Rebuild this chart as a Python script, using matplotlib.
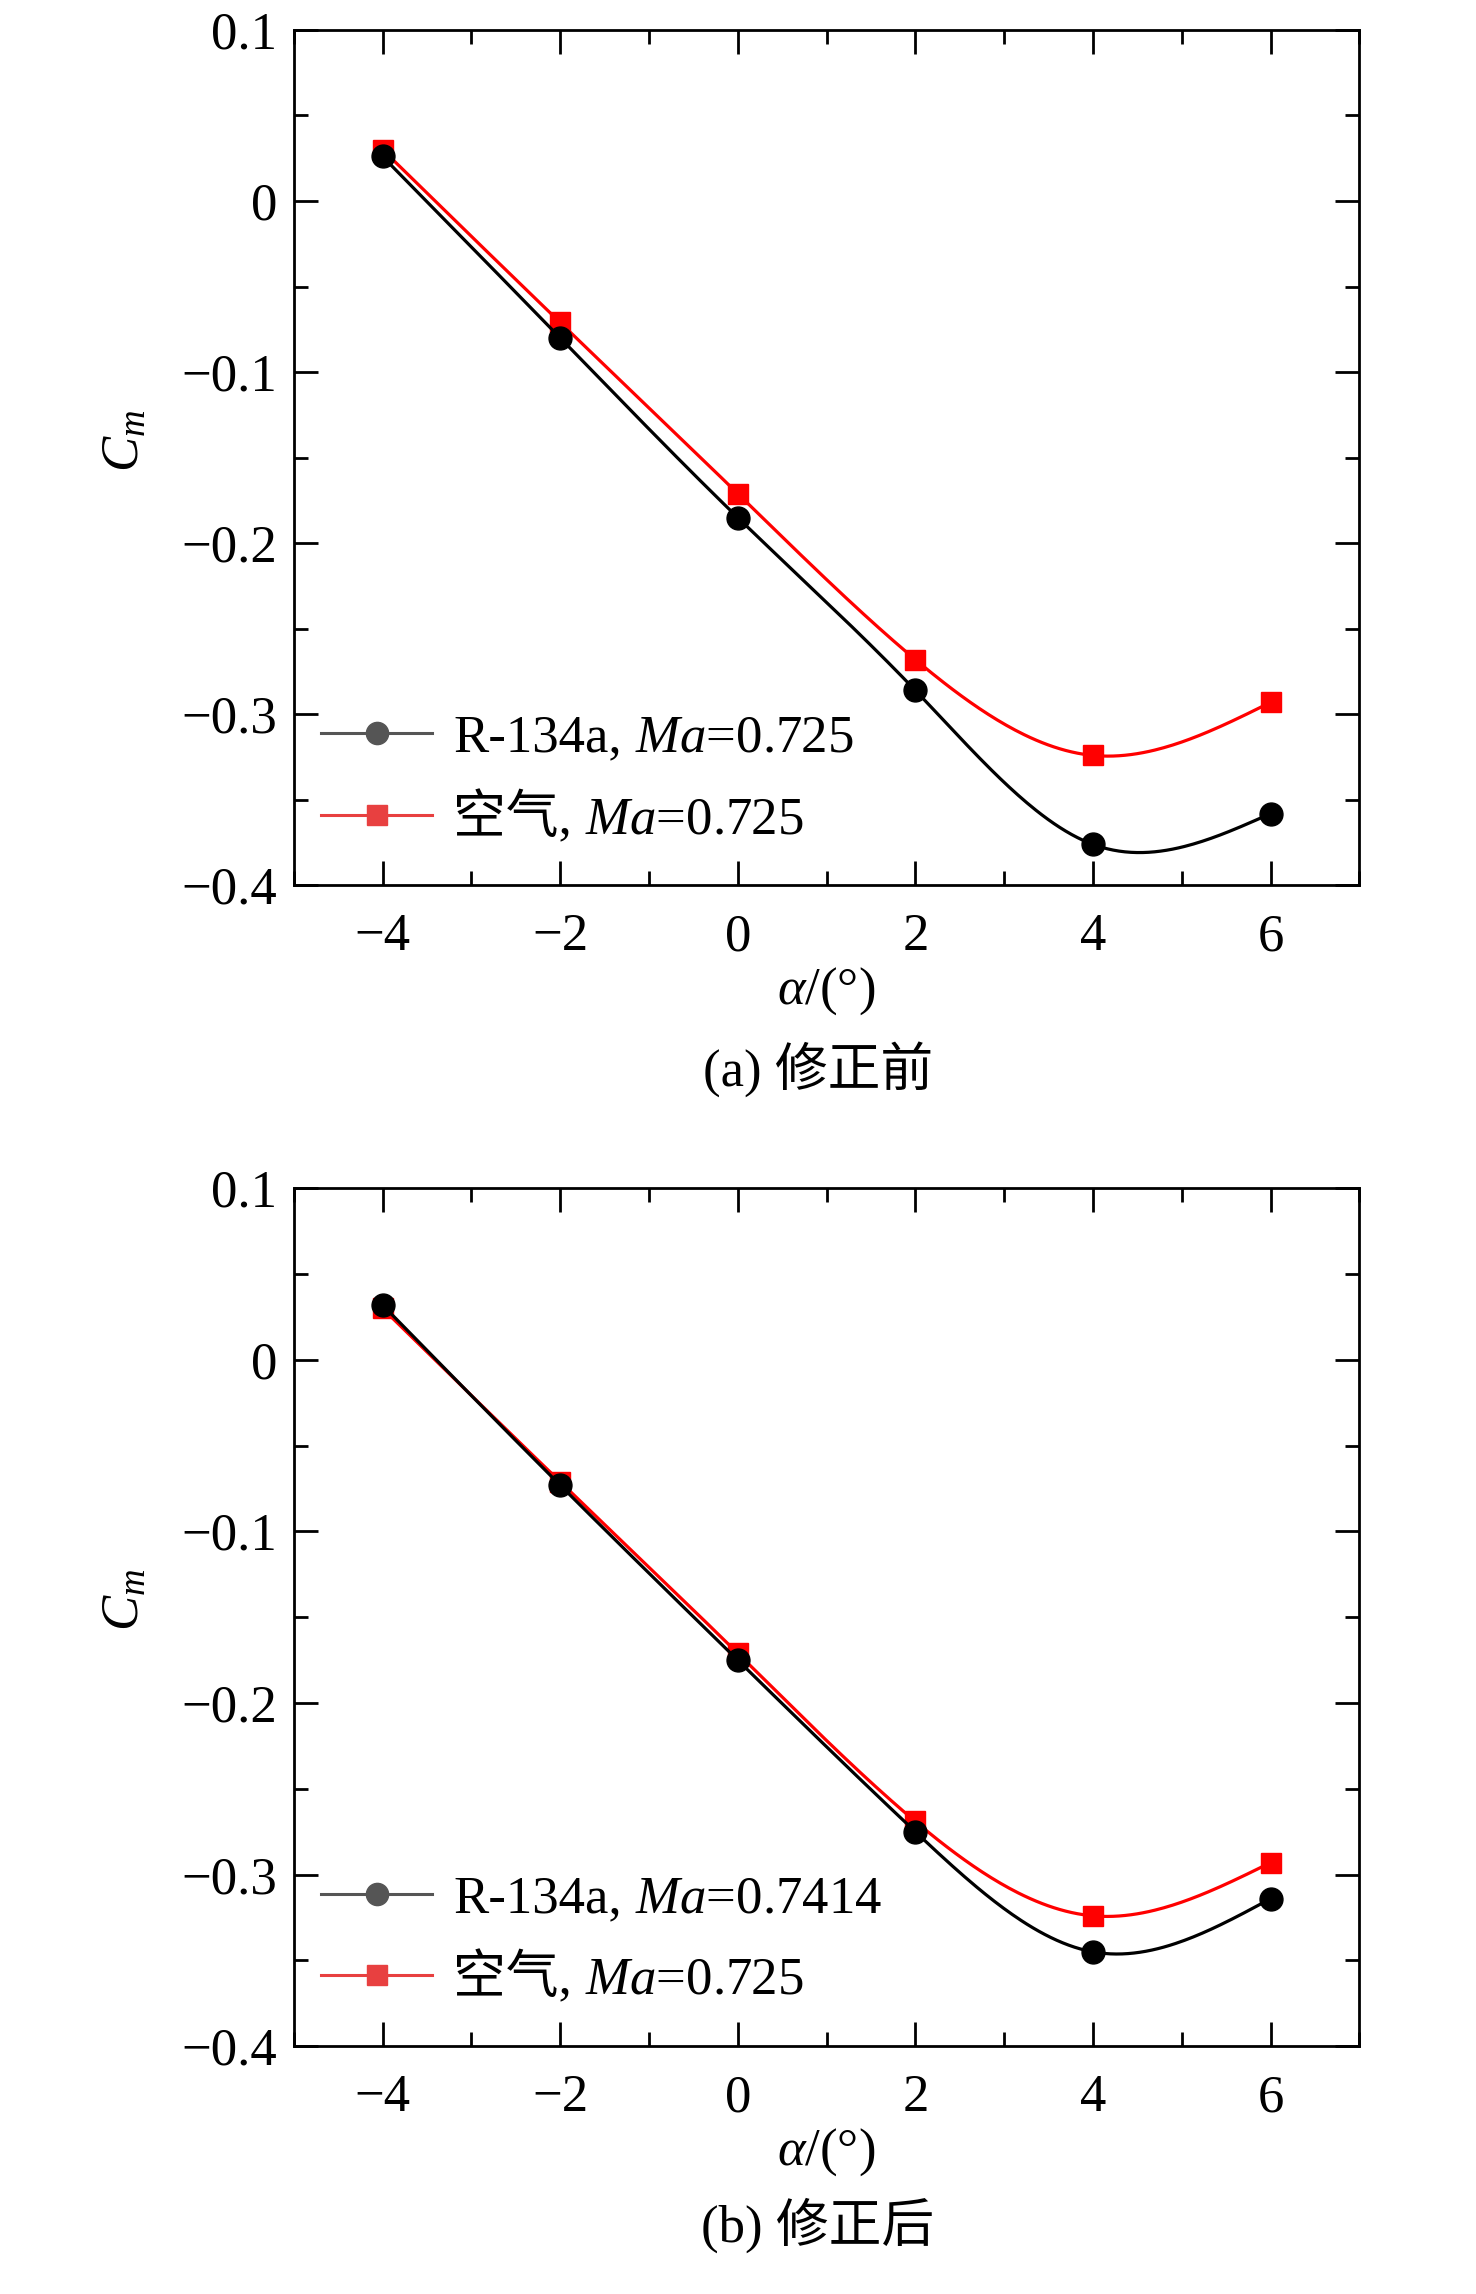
import matplotlib
matplotlib.use('Agg')
import matplotlib.pyplot as plt
import numpy as np
from matplotlib.lines import Line2D
from matplotlib.ticker import MultipleLocator
from matplotlib.transforms import IdentityTransform

plt.rcParams['font.family'] = ['Liberation Serif', 'Noto Sans CJK SC']
plt.rcParams['mathtext.fontset'] = 'custom'
plt.rcParams['mathtext.rm'] = 'Liberation Serif'
plt.rcParams['mathtext.it'] = 'Liberation Serif:italic'

# data
alpha = [-4, -2, 0, 2, 4, 6]
cm_r134a_a = [0.026, -0.080, -0.185, -0.286, -0.376, -0.358]
cm_air_a = [0.030, -0.071, -0.171, -0.268, -0.324, -0.293]
cm_r134a_b = [0.032, -0.073, -0.175, -0.275, -0.345, -0.314]
cm_air_b = [0.030, -0.071, -0.171, -0.269, -0.324, -0.293]

# legend text: plain prefix (may hold Chinese) + mathtext suffix
prefix = ['R-134a,', '空气,']
suffix_a = ['$\\mathit{Ma}$=0.725', '$\\mathit{Ma}$=0.725']
suffix_b = ['$\\mathit{Ma}$=0.7414', '$\\mathit{Ma}$=0.725']
captions = ['(a) 修正前', '(b) 修正后']


def spline(x, y, n=300):
    # natural cubic spline through the points
    x = np.asarray(x, float)
    y = np.asarray(y, float)
    k = len(x)
    h = np.diff(x)
    A = np.zeros((k, k))
    r = np.zeros(k)
    A[0, 0] = 1
    A[-1, -1] = 1
    for i in range(1, k - 1):
        A[i, i - 1] = h[i - 1]
        A[i, i] = 2 * (h[i - 1] + h[i])
        A[i, i + 1] = h[i]
        r[i] = 3 * ((y[i + 1] - y[i]) / h[i] - (y[i] - y[i - 1]) / h[i - 1])
    c = np.linalg.solve(A, r)
    xs = np.linspace(x[0], x[-1], n)
    ys = np.zeros(n)
    for j, xv in enumerate(xs):
        i = min(np.searchsorted(x, xv, side='right') - 1, k - 2)
        b = (y[i + 1] - y[i]) / h[i] - h[i] * (2 * c[i] + c[i + 1]) / 3
        d = (c[i + 1] - c[i]) / (3 * h[i])
        t = xv - x[i]
        ys[j] = y[i] + b * t + c[i] * t ** 2 + d * t ** 3
    return xs, ys


fig = plt.figure(figsize=(14.76, 22.94), dpi=100)
ax_a = fig.add_axes([0.199, 0.614, 0.722, 0.373])
ax_b = fig.add_axes([0.199, 0.108, 0.722, 0.374])

fs = 38
legends = []
for ax, blk, red, suf in [(ax_a, cm_r134a_a, cm_air_a, suffix_a),
                          (ax_b, cm_r134a_b, cm_air_b, suffix_b)]:
    xs, ys = spline(alpha, red)
    ax.plot(xs, ys, color='#ff0000', lw=2.3, zorder=2)
    ax.plot(alpha, red, 's', color='#ff0000', ms=14.5, zorder=3)
    xs, ys = spline(alpha, blk)
    ax.plot(xs, ys, color='black', lw=2.3, zorder=4)
    ax.plot(alpha, blk, 'o', color='black', ms=16.5, zorder=5)

    ax.set_xlim(-5, 7)
    ax.set_ylim(-0.4, 0.1)
    ax.xaxis.set_major_locator(MultipleLocator(2))
    ax.xaxis.set_minor_locator(MultipleLocator(1))
    ax.yaxis.set_minor_locator(MultipleLocator(0.05))
    ax.set_yticks([0.1, 0, -0.1, -0.2, -0.3, -0.4])
    ax.set_yticklabels(['0.1', '0', '\u22120.1', '\u22120.2', '\u22120.3', '\u22120.4'])
    ax.tick_params(which='both', direction='in', top=True, right=True,
                   width=2, labelsize=fs)
    ax.tick_params(which='major', length=17)
    ax.tick_params(which='minor', length=10)
    ax.tick_params(axis='x', pad=20)
    ax.tick_params(axis='y', pad=12)
    for s in ax.spines.values():
        s.set_linewidth(2)

    ax.set_ylabel('$C_m$', fontsize=fs)
    ax.yaxis.set_label_coords(-0.135, 0.52)
    ax.set_xlabel('$\\alpha$/(°)', fontsize=fs)
    ax.xaxis.set_label_coords(0.5, -0.093)

    handles = [Line2D([], [], color='#555555', lw=2.2, marker='o', ms=16),
               Line2D([], [], color='#e84040', lw=2.2, marker='s', ms=14)]
    leg = ax.legend(handles, prefix, loc='center left', bbox_to_anchor=(0.026, 0.124),
                    frameon=False, fontsize=fs, handlelength=2.1, handletextpad=0.4,
                    labelspacing=0.53, borderpad=0, borderaxespad=0)
    legends.append((leg, suf))

fig.text(0.554, 0.534, captions[0], fontsize=fs, ha='center', va='center')
fig.text(0.554, 0.030, captions[1], fontsize=fs, ha='center', va='center')

# put the italic Ma part right after each legend prefix, on its baseline
fig.canvas.draw()
renderer = fig.canvas.get_renderer()
space = 0.25 * fs * fig.dpi / 72
for leg, suf in legends:
    for txt, s in zip(leg.get_texts(), suf):
        ext = txt.get_window_extent(renderer)
        _, _, descent = txt._get_layout(renderer)
        fig.text(ext.x1 + space, ext.y0 + descent, s, fontsize=fs,
                 transform=IdentityTransform(), ha='left', va='baseline')

fig.savefig('out.png', dpi=100)
